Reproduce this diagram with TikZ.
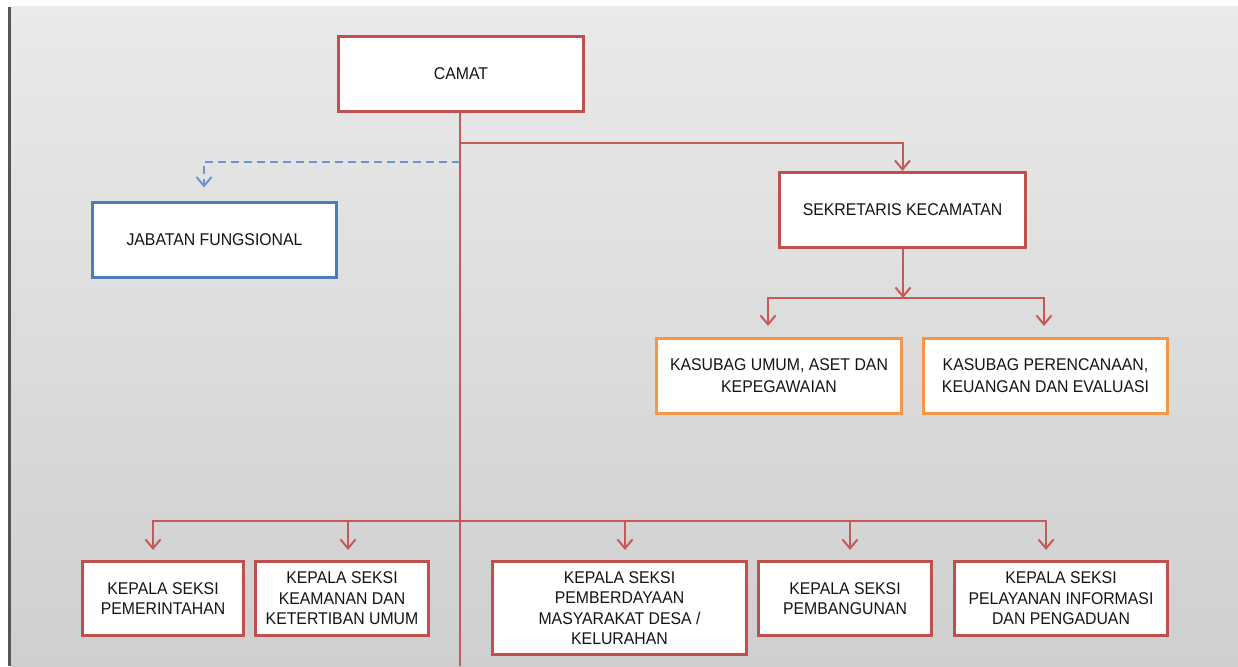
\documentclass[tikz,border=0pt]{standalone}
\usepackage{fontspec}
\setmainfont{Liberation Sans}[FakeStretch=0.93]
\usetikzlibrary{arrows.meta,calc}
\definecolor{boxred}{HTML}{C0504D}
\definecolor{linered}{HTML}{C55A57}
\definecolor{boxblue}{HTML}{4A7EBB}
\definecolor{dashblue}{HTML}{6A96CD}
\definecolor{boxorange}{HTML}{F79646}
\definecolor{bgtop}{HTML}{EAEAEA}
\definecolor{bgbot}{HTML}{CFCFCF}
\definecolor{edge}{HTML}{555555}
\definecolor{txt}{HTML}{141414}
\begin{document}
\begin{tikzpicture}[x=1pt,y=-1pt,
  box/.style={draw, fill=white, line width=3pt, font=\fontsize{17}{20.5}\selectfont,
    text=txt, align=center, inner sep=0pt},
  redbox/.style={box, draw=boxred},
  bluebox/.style={box, draw=boxblue},
  orangebox/.style={box, draw=boxorange},
  conn/.style={draw=linered, line width=2pt},
  arr/.style={conn, -{Straight Barb[length=9pt,width=15pt]}},
  dasharr/.style={draw=dashblue, line width=2pt, dash pattern=on 8pt off 5pt,
    -{Straight Barb[length=9pt,width=15pt]}}
]
\useasboundingbox (0,0) rectangle (1238,666);
% background
\fill[white] (0,0) rectangle (1238,666);
\shade[top color=bgtop, bottom color=bgbot] (11,7) rectangle (1238,666);
\fill[edge] (8,7) rectangle (11,666);

% nodes
\node[redbox, minimum width=245pt, minimum height=75pt] (camat) at (461,74) {CAMAT};
\node[bluebox, minimum width=244pt, minimum height=75pt] (jab) at (214.5,240) {JABATAN FUNGSIONAL};
\node[redbox, minimum width=246pt, minimum height=75pt] (sek) at (902.5,210) {SEKRETARIS KECAMATAN};
\node[orangebox, minimum width=245pt, minimum height=75pt, font=\fontsize{17}{22}\selectfont] (kumum) at (779,376) {KASUBAG UMUM, ASET DAN\\KEPEGAWAIAN};
\node[orangebox, minimum width=244pt, minimum height=75pt, font=\fontsize{17}{22}\selectfont] (kper) at (1045.5,376) {KASUBAG PERENCANAAN,\\KEUANGAN DAN EVALUASI};
\node[redbox, minimum width=161pt, minimum height=74pt] (b1) at (163,598.5) {KEPALA SEKSI\\PEMERINTAHAN};
\node[redbox, minimum width=173pt, minimum height=74pt] (b2) at (342,598.5) {KEPALA SEKSI\\KEAMANAN DAN\\KETERTIBAN UMUM};
\node[redbox, minimum width=254pt, minimum height=93pt] (b3) at (619.5,608) {KEPALA SEKSI\\PEMBERDAYAAN\\MASYARAKAT DESA /\\KELURAHAN};
\node[redbox, minimum width=173pt, minimum height=74pt] (b4) at (845,598.5) {KEPALA SEKSI\\PEMBANGUNAN};
\node[redbox, minimum width=213pt, minimum height=74pt] (b5) at (1061,598.5) {KEPALA SEKSI\\PELAYANAN INFORMASI\\DAN PENGADUAN};

% junction coordinates
\coordinate (trunkend) at (460,666);
\coordinate (sekjunc) at (460,143);
\coordinate (fjunc) at (460,162);
\coordinate (kbus) at (903,298);
\coordinate (bbus) at (460,521);

% trunk
\draw[conn] (camat.south -| trunkend) -- (trunkend);
% to sekretaris
\draw[arr] (sekjunc) -| (sek.north);
% to jabatan fungsional (dashed)
\draw[dasharr] (fjunc) -| ([xshift=-10.5pt,yshift=13.5pt]jab.north);
% sekretaris to kasubag
\draw[arr] (sek.south -| kbus) -- (kbus);
\draw[arr] (kbus) -| ([xshift=-11pt,yshift=11pt]kumum.north);
\draw[arr] (kbus) -| ([xshift=-1.5pt,yshift=11pt]kper.north);
% bottom bus
\draw[arr] (bbus) -| ([xshift=-10pt,yshift=10pt]b1.north);
\draw[arr] (bbus) -| ([xshift=6pt,yshift=10pt]b2.north);
\draw[arr] (bbus) -| ([xshift=5.5pt,yshift=10pt]b3.north);
\draw[arr] (bbus) -| ([xshift=5pt,yshift=10pt]b4.north);
\draw[arr] (bbus) -| ([xshift=-15pt,yshift=10pt]b5.north);
\end{tikzpicture}
\end{document}
